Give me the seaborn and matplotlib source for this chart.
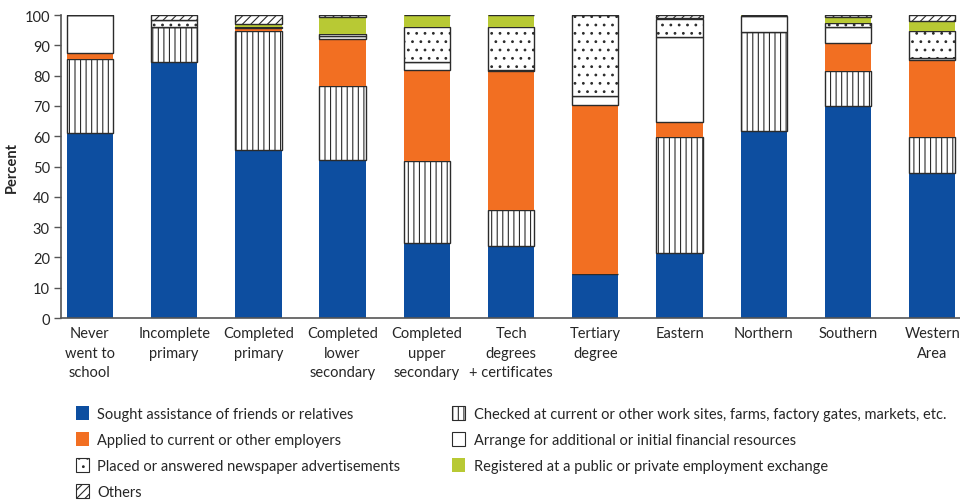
import numpy as np
import pandas as pd
import matplotlib.pyplot as plt
import seaborn as sns
from matplotlib.patches import Patch

# Categories (x axis)
groups = ["Never\nwent to\nschool", "Incomplete\nprimary", "Completed\nprimary",
          "Completed\nlower\nsecondary", "Completed\nupper\nsecondary",
          "Tech\ndegrees\n+ certificates", "Tertiary\ndegree", "Eastern",
          "Northern", "Southern", "Western\nArea"]

# Segment values (percent), bottom to top
sought = [61.0, 84.5, 55.6, 52.3, 24.9, 23.9, 14.5, 21.6, 61.6, 69.9, 47.9]
checked = [24.5, 11.5, 39.0, 24.2, 26.8, 11.7, 0.0, 38.1, 32.8, 11.7, 11.8]
applied = [2.0, 0.0, 1.2, 15.7, 30.2, 46.0, 55.8, 5.1, 0.0, 9.0, 25.4]
arrange = [12.5, 0.2, 0.3, 1.0, 2.6, 0.3, 2.9, 27.8, 5.3, 5.6, 0.6]
placed = [0.0, 2.1, 0.0, 0.5, 11.7, 14.1, 26.8, 6.0, 0.0, 1.0, 9.0]
registered = [0.0, 0.0, 0.9, 5.7, 3.8, 4.0, 0.0, 0.5, 0.3, 2.3, 3.4]
others = [0.0, 1.7, 3.0, 0.6, 0.0, 0.0, 0.0, 0.9, 0.0, 0.5, 1.9]

BLUE = "#0D4EA0"
ORANGE = "#F26F22"
GREEN = "#B8C934"
EDGE = "#2b2b2b"

series = [
    ("Sought assistance of friends or relatives", sought, BLUE, None, BLUE),
    ("Checked at current or other work sites, farms, factory gates, markets, etc.", checked, "white", "|||", EDGE),
    ("Applied to current or other employers", applied, ORANGE, None, ORANGE),
    ("Arrange for additional or initial financial resources", arrange, "white", None, EDGE),
    ("Placed or answered newspaper advertisements", placed, "white", "..", EDGE),
    ("Registered at a public or private employment exchange", registered, GREEN, None, GREEN),
    ("Others", others, "white", "////", EDGE),
]

sns.set_style("white")
plt.rcParams["font.family"] = ["Lato", "DejaVu Sans"]
plt.rcParams["hatch.linewidth"] = 0.8
plt.rcParams["hatch.color"] = EDGE

fig = plt.figure(figsize=(9.6, 5.02), dpi=100)
ax = fig.add_axes([0.0635, 0.3645, 0.9365, 0.6036])

bottom = np.zeros(len(groups))
handles = {}
for label, vals, fc, hatch, ec in series:
    df = pd.DataFrame({"group": groups, "value": vals})
    sns.barplot(data=df, x="group", y="value", ax=ax, bottom=bottom,
                color=fc, width=0.55, saturation=1, hatch=hatch,
                edgecolor=ec, linewidth=1.0 if ec == EDGE else 0)
    bottom = bottom + np.array(vals)
    handles[label] = Patch(facecolor=fc, edgecolor=ec, hatch=hatch,
                           linewidth=0.8 if ec == EDGE else 0)

ax.set_ylim(0, 100)
ax.set_xlim(-0.344, 10.33)
ax.set_yticks(range(0, 101, 10))
ax.set_xlabel("")
ax.set_ylabel("Percent", fontsize=10.5, fontweight="bold")
ax.tick_params(axis="y", length=5, width=1, color="#555555", labelsize=10.5, pad=3, left=True)
ax.tick_params(axis="x", length=0, labelsize=10.5, pad=6)
for t in ax.get_xticklabels():
    t.set_linespacing(1.5)
for s in ["top", "right"]:
    ax.spines[s].set_visible(False)
for s in ["left", "bottom"]:
    ax.spines[s].set_color("#555555")
    ax.spines[s].set_linewidth(1.2)

order = ["Sought assistance of friends or relatives",
         "Applied to current or other employers",
         "Placed or answered newspaper advertisements",
         "Others",
         "Checked at current or other work sites, farms, factory gates, markets, etc.",
         "Arrange for additional or initial financial resources",
         "Registered at a public or private employment exchange"]
fig.legend([handles[k] for k in order], order, ncol=2, loc="upper left",
           bbox_to_anchor=(0.065, 0.215), frameon=False, fontsize=10.5,
           handlelength=0.9, handleheight=1.1, handletextpad=0.6,
           labelspacing=0.75, columnspacing=3.55)

plt.savefig("out.png", dpi=100)
